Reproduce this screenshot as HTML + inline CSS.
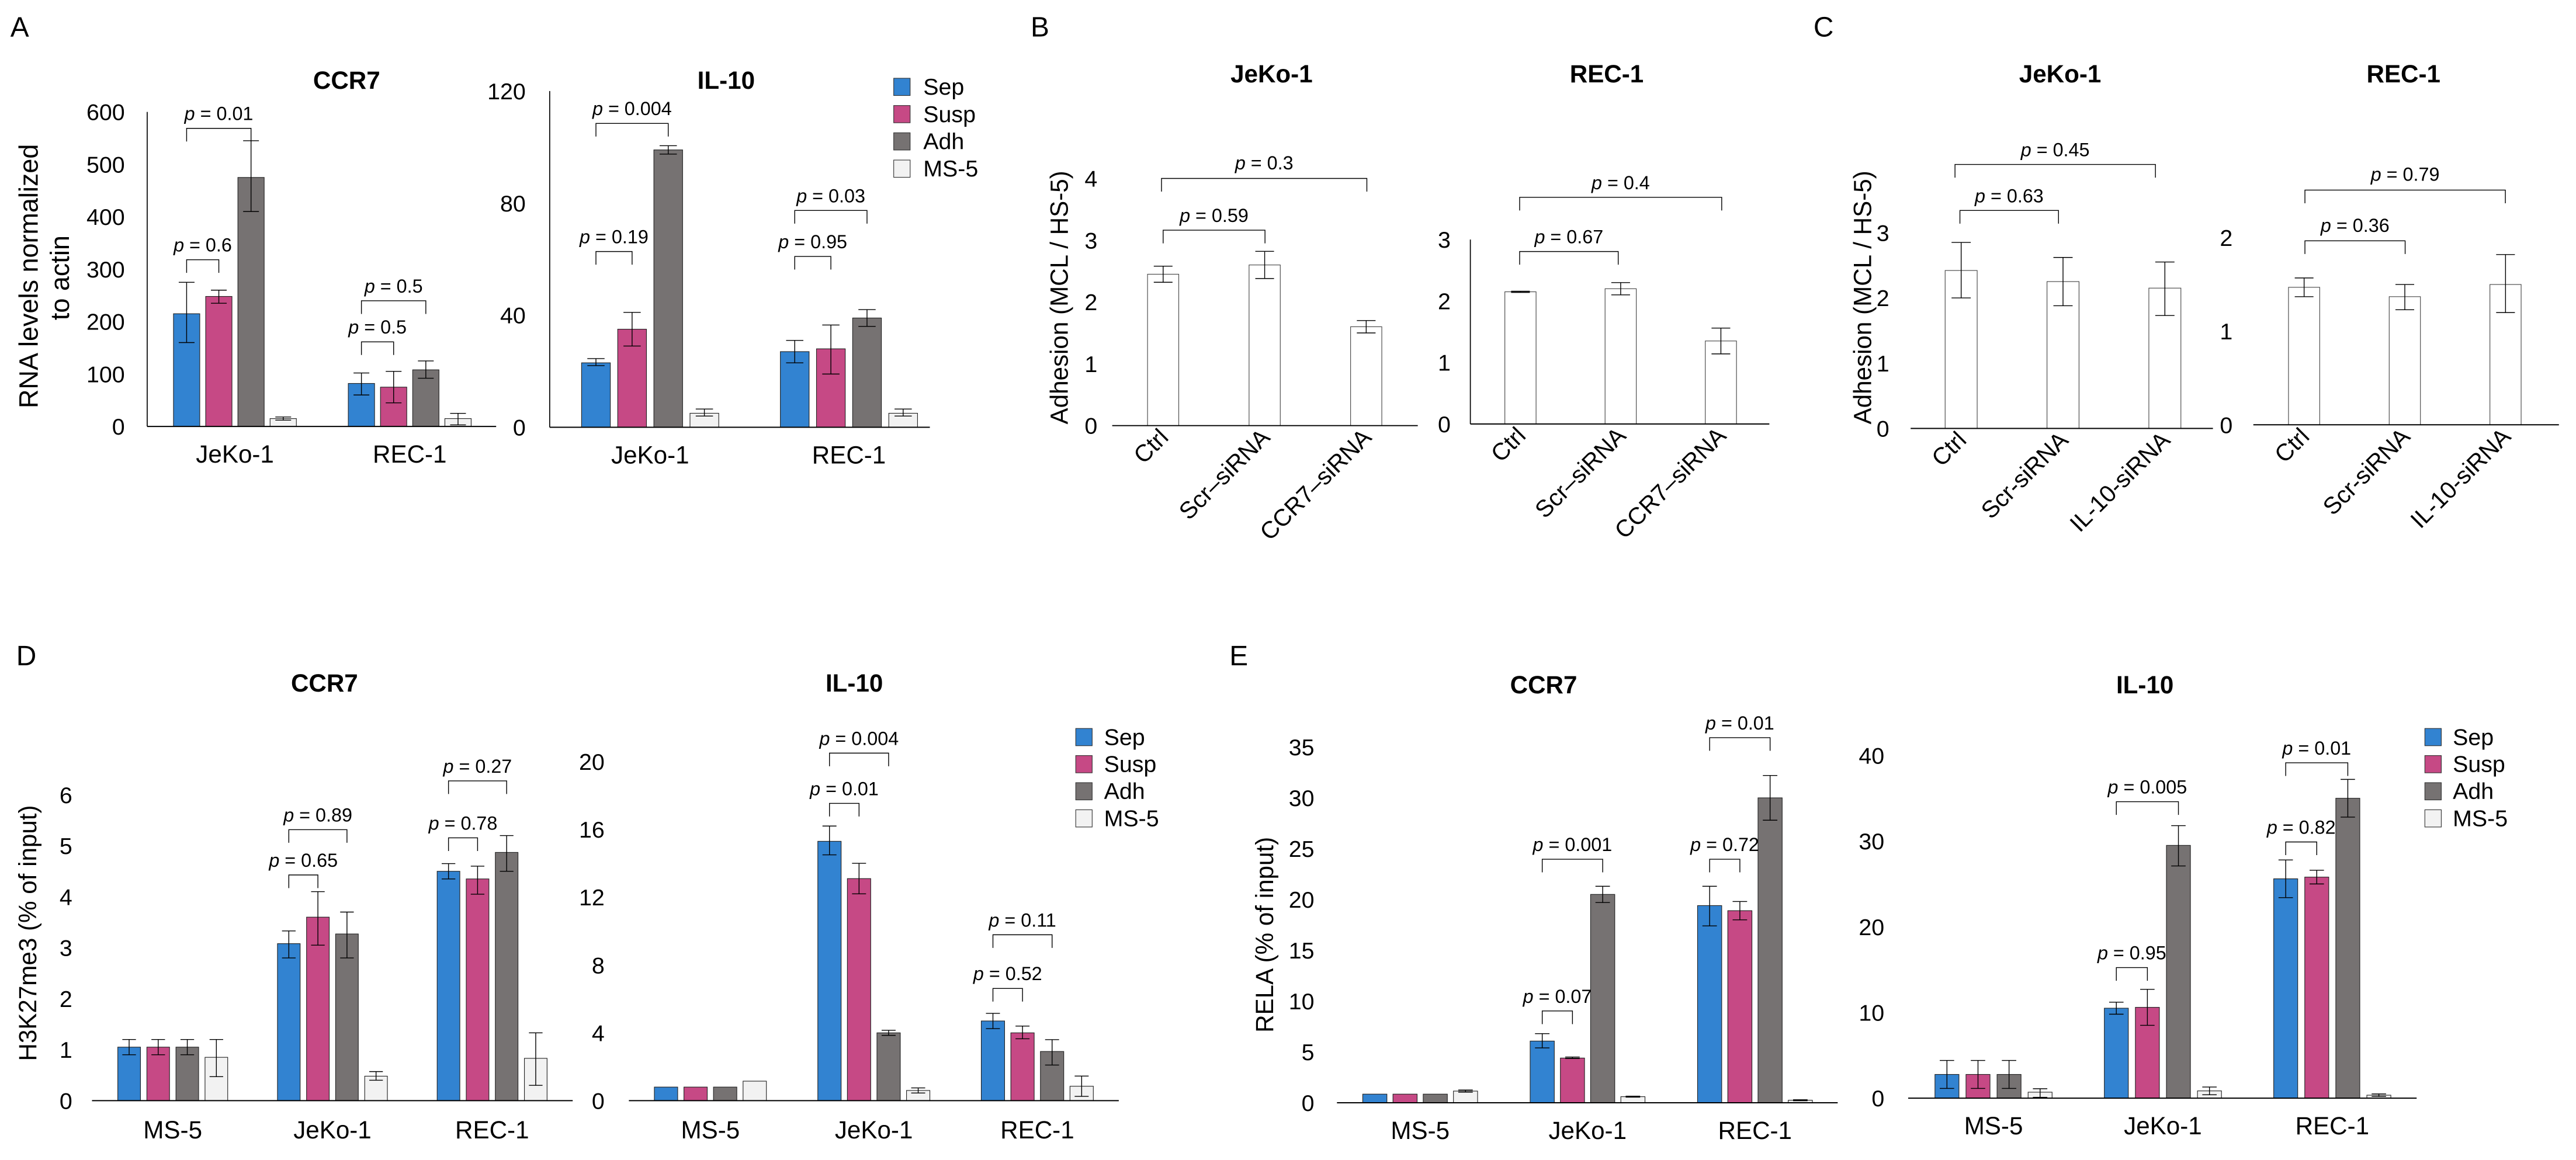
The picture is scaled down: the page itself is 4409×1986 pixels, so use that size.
<!DOCTYPE html>
<html><head><meta charset="utf-8">
<style>
html,body{margin:0;padding:0;background:#fff;}
svg{display:block;font-family:"Liberation Sans",Arial,sans-serif;}
</style></head>
<body>
<svg id="fig" xmlns="http://www.w3.org/2000/svg" width="4409" height="1986" viewBox="0 0 1568 706">
<rect x="0" y="0" width="1568" height="706" fill="#fff"/>
<g id="root"></g>
</svg>
<script>
// ---- Data arrays ----
const aGroups = ["JeKo-1","REC-1"];
const aCcr7Val = [[215,248,475,15],[82,75,108,15]];
const aCcr7Lo  = [[160,235,410,12],[60,45,92,3]];
const aCcr7Hi  = [[275,260,545,18],[102,105,125,25]];
const aCcr7Ticks = [0,100,200,300,400,500,600];
const aIl10Val = [[23,35,99,5],[27,28,39,5]];
const aIl10Lo  = [[22,29,97.5,4],[23,19,36,4]];
const aIl10Hi  = [[24.5,41,100.5,6.5],[31,36.5,42,6.5]];
const aIl10Ticks = [0,40,80,120];
const bCats = ["Ctrl","Scr\u2013siRNA","CCR7\u2013siRNA"];
const bJekoVal = [2.45,2.6,1.6];
const bJekoLo = [2.32,2.38,1.5];
const bJekoHi = [2.58,2.82,1.7];
const bJekoTicks = [0,1,2,3,4];
const bRecVal = [2.15,2.2,1.35];
const bRecLo = [2.14,2.1,1.14];
const bRecHi = [2.16,2.3,1.56];
const bRecTicks = [0,1,2,3];
const cCats = ["Ctrl","Scr-siRNA","IL-10-siRNA"];
const cJekoVal = [2.42,2.25,2.15];
const cJekoLo = [2.0,1.88,1.73];
const cJekoHi = [2.85,2.62,2.55];
const cJekoTicks = [0,1,2,3];
const cRecVal = [1.47,1.37,1.5];
const cRecLo = [1.37,1.23,1.2];
const cRecHi = [1.57,1.5,1.82];
const cRecTicks = [0,1,2];
const dGroups = ["MS-5","JeKo-1","REC-1"];
const dCcr7Val = [[1.05,1.05,1.05,0.85],[3.08,3.6,3.27,0.48],[4.5,4.35,4.87,0.83]];
const dCcr7Lo  = [[0.9,0.9,0.9,0.47],[2.8,3.05,2.8,0.4],[4.35,4.05,4.5,0.3]];
const dCcr7Hi  = [[1.2,1.2,1.2,1.2],[3.33,4.1,3.7,0.57],[4.65,4.6,5.2,1.33]];
const dCcr7Ticks = [0,1,2,3,4,5,6];
const dIl10Val = [[0.8,0.8,0.8,1.15],[15.3,13.1,4.0,0.6],[4.7,4.0,2.9,0.85]];
const dIl10Lo  = [[0.8,0.8,0.8,1.15],[14.5,12.2,3.85,0.45],[4.25,3.65,2.1,0.25]];
const dIl10Hi  = [[0.8,0.8,0.8,1.15],[16.2,14.0,4.15,0.75],[5.15,4.4,3.6,1.45]];
const dIl10Ticks = [0,4,8,12,16,20];
const eCcr7Val = [[0.85,0.85,0.85,1.15],[6.07,4.4,20.5,0.6],[19.4,18.9,30.0,0.25]];
const eCcr7Lo  = [[0.85,0.85,0.85,1.05],[5.4,4.35,19.7,0.55],[17.4,18.0,27.8,0.2]];
const eCcr7Hi  = [[0.85,0.85,0.85,1.25],[6.8,4.5,21.3,0.65],[21.3,19.8,32.2,0.3]];
const eCcr7Ticks = [0,5,10,15,20,25,30,35];
const eIl10Val = [[2.77,2.77,2.77,0.7],[10.5,10.6,29.5,0.85],[25.6,25.8,35.0,0.35]];
const eIl10Lo  = [[1.14,1.14,1.14,0.1],[9.8,8.5,27.1,0.4],[23.4,25.0,32.8,0.2]];
const eIl10Hi  = [[4.4,4.4,4.4,1.1],[11.2,12.7,31.8,1.3],[27.8,26.6,37.2,0.5]];
const eIl10Ticks = [0,10,20,30,40];
const seriesNames = ["Sep","Susp","Adh","MS-5"];
const seriesColors = ["#3283d1","#c64985","#767272","#f2f2f2"];

const NS="http://www.w3.org/2000/svg";
const root=document.getElementById('root');
function el(tag,attrs,parent,txt){
  const e=document.createElementNS(NS,tag);
  for(const k in attrs) e.setAttribute(k,attrs[k]);
  if(txt!==undefined) e.textContent=txt;
  (parent||root).appendChild(e);
  return e;
}
function line(g,x1,y1,x2,y2,w){return el('line',{x1:x1,y1:y1,x2:x2,y2:y2,stroke:'#000','stroke-width':w||0.5},g);}
function ptext(g,cx,y,val){
  const t=el('text',{x:cx,y:y,'text-anchor':'middle','font-size':11.5},g);
  el('tspan',{'font-style':'italic'},t,'p');
  el('tspan',{},t,' = '+val);
  
  
  return t;
}
function bracket(g,x1,x2,y,val,ty){
  const b=el('path',{d:`M${x1},${y+8} V${y} H${x2} V${y+8}`,fill:'none',stroke:'#000','stroke-width':0.5},g);
  
  
  ptext(g,(x1+x2)/2,ty,val);
}

function chart(cfg){
  const g=el('g',{});
  
  
  const maxT=cfg.ticks[cfg.ticks.length-1];
  const y=v=>cfg.base-(v/maxT)*(cfg.base-cfg.yTop);
  const xb=(gi,si)=>cfg.x0+gi*cfg.gStep+si*cfg.step;
  cfg.ticks.forEach(t=>{
    const tx=el('text',{x:cfg.tickX,y:y(t)+5,'text-anchor':'end','font-size':cfg.fontTick||14},g,String(t));
    
    
  });
  if(cfg.yLine){
    const yl=line(g,cfg.axisX0,y(maxT),cfg.axisX0,cfg.base,0.6);
    
    
  }
  cfg.vals.forEach((grp,gi)=>{
    grp.forEach((v,si)=>{
      const x=xb(gi,si);
      const fill=cfg.single?'#fff':seriesColors[si];
      const r=el('rect',{x:x,y:y(v),width:cfg.bw,height:cfg.base-y(v),fill:fill,stroke:cfg.single?'#444':'#222','stroke-width':0.4},g);
      
      
      const lo=cfg.lo[gi][si], hi=cfg.hi[gi][si];
      if(hi-lo>0.0001){
        const cx=x+cfg.bw/2, cw=cfg.bw*0.3;
        const eb=el('path',{d:`M${cx},${y(lo)} V${y(hi)} M${cx-cw},${y(lo)} H${cx+cw} M${cx-cw},${y(hi)} H${cx+cw}`,stroke:'#000','stroke-width':0.5,fill:'none'},g);
        
        
      }
    });
  });
  const xl=line(g,cfg.axisX0,cfg.base,cfg.axisX1,cfg.base,0.7);
  
  
  if(cfg.groups){
    cfg.groups.forEach((name,gi)=>{
      const n=cfg.vals[gi].length;
      const cx=xb(gi,0)+((n-1)*cfg.step+cfg.bw)/2;
      const t=el('text',{x:cx,y:cfg.base+cfg.catDy,'text-anchor':'middle','font-size':15},g,name);
      
      
    });
  }
  if(cfg.cats){
    cfg.cats.forEach((name,gi)=>{
      const cx=xb(gi,0)+cfg.bw/2+4;
      const t=el('text',{x:cx,y:cfg.base+8,'text-anchor':'end','font-size':14.5,transform:`rotate(-45 ${cx} ${cfg.base+8})`},g,name);
      
      
    });
  }
  const tt=el('text',{x:cfg.titleX,y:cfg.titleY,'text-anchor':'middle','font-size':15,'font-weight':'bold'},g,cfg.title);
  
  
  (cfg.br||[]).forEach(b=>{
    const gi=b[0], s1=b[1], s2=b[2];
    const x1=xb(gi,s1)+cfg.bw/2, x2=xb(gi,s2)+cfg.bw/2;
    bracket(g,x1,x2,b[3],b[4],b[3]-5);
  });
  return g;
}
function wrap1(a){return a.map(v=>[v]);}
function legend(x,y0,dy,tx){
  const g=el('g',{});
  
  
  seriesNames.forEach((n,i)=>{
    const r=el('rect',{x:x,y:y0+i*dy,width:10,height:10.5,fill:seriesColors[i],stroke:'#333','stroke-width':0.4},g);
    
    
    const t=el('text',{x:tx,y:y0+i*dy+10,'font-size':14},g,n);
    
    
  });
}
function label(x,y,txt,size,rot,name,bold){
  const a={x:x,y:y,'font-size':size,'text-anchor':'middle'};
  if(rot) a.transform=`rotate(-90 ${x} ${y})`;
  if(bold) a['font-weight']='bold';
  const t=el('text',a,root,txt);
  
  
}

label(12,22,'A',17,false,'panel-label-a');
label(633,22,'B',17,false,'panel-label-b');
label(1110,22,'C',17,false,'panel-label-c');
label(16,405,'D',17,false,'panel-label-d');
label(754,405,'E',17,false,'panel-label-e');

label(23,168,'RNA levels normalized',16,true,'y-axis-title-a');
label(42,169,'to actin',16,true,'y-axis-title-a-line2');
chart({name:'chart-a-ccr7',base:259.5,yTop:68,ticks:aCcr7Ticks,axisX0:89.6,axisX1:302,tickX:76,yLine:true,
  x0:105.6,step:19.6,gStep:106.4,bw:16,vals:aCcr7Val,lo:aCcr7Lo,hi:aCcr7Hi,groups:aGroups,catDy:22,
  title:'CCR7',titleX:211,titleY:54,
  br:[[0,0,1,158,'0.6'],[0,0,2,78,'0.01'],[1,0,1,208,'0.5'],[1,0,2,183,'0.5']]});
chart({name:'chart-a-il10',base:260,yTop:55.3,ticks:aIl10Ticks,axisX0:334.6,axisX1:566,tickX:320,yLine:true,
  x0:354,step:22,gStep:121,bw:17.5,vals:aIl10Val,lo:aIl10Lo,hi:aIl10Hi,groups:aGroups,catDy:22,
  title:'IL-10',titleX:442,titleY:54,
  br:[[0,0,1,153,'0.19'],[0,0,2,75,'0.004'],[1,0,1,156,'0.95'],[1,0,2,128,'0.03']]});
legend(544,47.5,16.6,562);

label(650,181,'Adhesion (MCL / HS-5)',15,true,'y-axis-title-b');
chart({name:'chart-b-jeko',base:259,yTop:108.5,ticks:bJekoTicks,axisX0:677,axisX1:863,tickX:668,yLine:false,
  x0:698.5,step:0,gStep:61.8,bw:19,vals:wrap1(bJekoVal),lo:wrap1(bJekoLo),hi:wrap1(bJekoHi),single:true,cats:bCats,
  title:'JeKo-1',titleX:774,titleY:50,br:[]});
chart({name:'chart-b-rec',base:258,yTop:145.7,ticks:bRecTicks,axisX0:895,axisX1:1077,tickX:883,yLine:true,
  x0:916,step:0,gStep:61,bw:19,vals:wrap1(bRecVal),lo:wrap1(bRecLo),hi:wrap1(bRecHi),single:true,cats:bCats,
  title:'REC-1',titleX:978,titleY:50,br:[]});
bracket(root,708,770,140,'0.59',135);
bracket(root,707,832,108.5,'0.3',103);
bracket(root,925,985,153,'0.67',148);
bracket(root,925,1048,120,'0.4',115);

label(1139,181,'Adhesion (MCL / HS-5)',15,true,'y-axis-title-c');
chart({name:'chart-c-jeko',base:260.7,yTop:141.5,ticks:cJekoTicks,axisX0:1163,axisX1:1347,tickX:1150,yLine:false,
  x0:1184,step:0,gStep:62,bw:19.5,vals:wrap1(cJekoVal),lo:wrap1(cJekoLo),hi:wrap1(cJekoHi),single:true,cats:cCats,
  title:'JeKo-1',titleX:1254,titleY:50,br:[]});
chart({name:'chart-c-rec',base:258.5,yTop:144.6,ticks:cRecTicks,axisX0:1371.6,axisX1:1557.6,tickX:1359,yLine:false,
  x0:1393,step:0,gStep:61.3,bw:19,vals:wrap1(cRecVal),lo:wrap1(cRecLo),hi:wrap1(cRecHi),single:true,cats:cCats,
  title:'REC-1',titleX:1463,titleY:50,br:[]});
bracket(root,1193,1253,128,'0.63',123);
bracket(root,1190,1312,100,'0.45',95);
bracket(root,1403,1464,146.5,'0.36',141);
bracket(root,1403,1525,115.6,'0.79',110);

label(22,568,'H3K27me3 (% of input)',15,true,'y-axis-title-d');
chart({name:'chart-d-ccr7',base:670,yTop:483.8,ticks:dCcr7Ticks,axisX0:56,axisX1:348.6,tickX:44,yLine:false,
  x0:71.7,step:17.7,gStep:97.2,bw:13.8,vals:dCcr7Val,lo:dCcr7Lo,hi:dCcr7Hi,groups:dGroups,catDy:23,
  title:'CCR7',titleX:197.5,titleY:421,
  br:[[1,0,1,532.6,'0.65'],[1,0,2,505,'0.89'],[2,0,1,510,'0.78'],[2,0,2,475.3,'0.27']]});
chart({name:'chart-d-il10',base:670,yTop:463.6,ticks:dIl10Ticks,axisX0:382.8,axisX1:681,tickX:368,yLine:false,
  x0:398.3,step:18,gStep:99.5,bw:14.2,vals:dIl10Val,lo:dIl10Lo,hi:dIl10Hi,groups:dGroups,catDy:23,
  title:'IL-10',titleX:520,titleY:421,
  br:[[1,0,1,489,'0.01'],[1,0,2,458.4,'0.004'],[2,0,1,601.7,'0.52'],[2,0,2,569,'0.11']]});
legend(654.8,443.4,16.5,672);

label(775,569,'RELA (% of input)',15,true,'y-axis-title-e');
chart({name:'chart-e-ccr7',base:671.3,yTop:454.7,ticks:eCcr7Ticks,axisX0:813.8,axisX1:1118.6,tickX:800,yLine:false,
  x0:829.5,step:18.4,gStep:101.9,bw:14.7,vals:eCcr7Val,lo:eCcr7Lo,hi:eCcr7Hi,groups:dGroups,catDy:22,
  title:'CCR7',titleX:939.6,titleY:422,
  br:[[1,0,1,615.4,'0.07'],[1,0,2,523,'0.001'],[2,0,1,523,'0.72'],[2,0,2,449,'0.01']]});
chart({name:'chart-e-il10',base:668.5,yTop:459.8,ticks:eIl10Ticks,axisX0:1161.5,axisX1:1471,tickX:1147,yLine:false,
  x0:1177.8,step:18.9,gStep:103.1,bw:14.6,vals:eIl10Val,lo:eIl10Lo,hi:eIl10Hi,groups:dGroups,catDy:22,
  title:'IL-10',titleX:1305.6,titleY:422,
  br:[[1,0,1,589,'0.95'],[1,0,2,488,'0.005'],[2,0,1,512.5,'0.82'],[2,0,2,464.3,'0.01']]});
legend(1476,443.4,16.5,1493);
</script>
</body></html>
